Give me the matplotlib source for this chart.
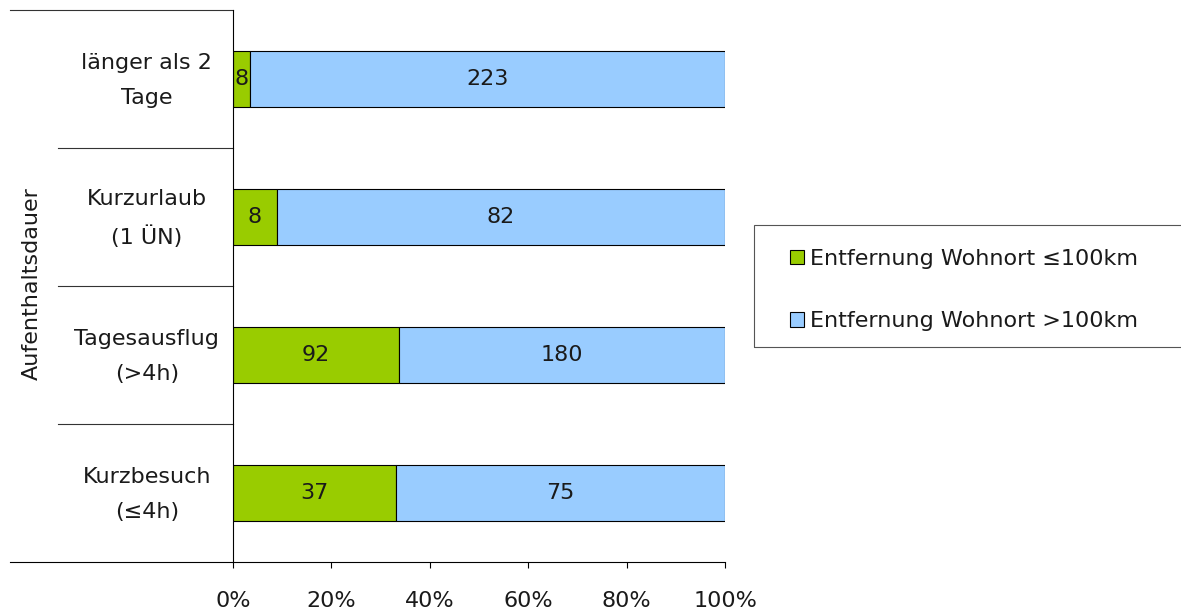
############################# Title #############################

''' Aufenthaltsdauer nach Entfernung Wohnort (100% gestapelt) '''

############################ Settings ###########################

import numpy as np
import matplotlib
matplotlib.use("Agg")
import matplotlib.pyplot as plt
from matplotlib.patches import Rectangle
from matplotlib.transforms import blended_transform_factory

plt.rcParams['font.family'] = ['DejaVu Sans']

########################## Data #########################

kategorien = ["Kurzbesuch\n(≤4h)", "Tagesausflug\n(>4h)",
              "Kurzurlaub\n(1 ÜN)", "länger als 2\nTage"]
nah = np.array([37, 92, 8, 8])          # Entfernung Wohnort <=100km
fern = np.array([75, 180, 82, 223])     # Entfernung Wohnort >100km
serien = ["Entfernung Wohnort ≤100km", "Entfernung Wohnort >100km"]
xticks = [0, 20, 40, 60, 80, 100]

########################## Plot #########################

fs = 16
txtcol = "#1a1a1a"
gruen = "#99CC00"
blau = "#99CCFF"

fig = plt.figure(figsize=(11.81, 6.10), dpi=100)
ax = fig.add_axes([233/1181, 1 - 562/610, 492/1181, 552/610])

summe = nah + fern
p_nah = nah / summe * 100
p_fern = fern / summe * 100
y = np.arange(len(kategorien))

b1 = ax.barh(y, p_nah, height=0.4, color=gruen, edgecolor="black",
             linewidth=0.8, label=serien[0])
b2 = ax.barh(y, p_fern, left=p_nah, height=0.4, color=blau,
             edgecolor="black", linewidth=0.8, label=serien[1])

#   Werte in den Balken
for i in range(len(y)):
    ax.text(p_nah[i] / 2, y[i], str(nah[i]), ha="center", va="center",
            fontsize=fs, color=txtcol)
    ax.text(p_nah[i] + p_fern[i] / 2, y[i], str(fern[i]), ha="center",
            va="center", fontsize=fs, color=txtcol)

ax.set_xlim(0, 100)
ax.set_ylim(-0.5, len(kategorien) - 0.5)
ax.set_xticks(xticks)
ax.set_xticklabels([f"{t}%" for t in xticks], fontsize=fs, color=txtcol)
ax.tick_params(axis="x", direction="out", length=4.5, width=0.8,
               pad=16.5, color="black")
ax.set_yticks([])

for s in ["top", "right"]:
    ax.spines[s].set_visible(False)
ax.spines["left"].set_linewidth(0.8)
ax.spines["bottom"].set_linewidth(0.8)

#   Kategorienbeschriftung und Trennlinien (Excel-Stil)
tr = blended_transform_factory(ax.transAxes, ax.transData)
for i, k in enumerate(kategorien):
    ax.text(-0.175, y[i] - 0.01, k, transform=tr, ha="center", va="center",
            multialignment="center", fontsize=fs, color=txtcol,
            linespacing=1.9)
x_inner = (58 - 233) / 492
x_outer = (10 - 233) / 492
for b in [0.5, 1.5, 2.5]:
    ax.plot([x_inner, 0], [b, b], transform=tr, color="#333333",
            linewidth=0.8, clip_on=False)
ax.plot([x_outer, 0], [3.5, 3.5], transform=tr, color="#333333",
        linewidth=0.8, clip_on=False)
ax.plot([x_outer, 0], [-0.5, -0.5], transform=tr, color="black",
        linewidth=0.8, clip_on=False)

fig.text(32/1181, 1 - 284/610, "Aufenthaltsdauer", rotation=90,
         ha="center", va="center", fontsize=fs, color=txtcol)

#   Legende (Rahmen rechts abgeschnitten wie im Original)
leg = fig.legend(handles=[b1, b2], labels=serien,
                 bbox_to_anchor=(790/1181, 1 - 249/610),
                 loc="upper left", borderaxespad=0, borderpad=0,
                 fontsize=fs, frameon=False,
                 handlelength=0.62, handleheight=0.62,
                 handletextpad=0.3, labelspacing=1.9)
for t in leg.get_texts():
    t.set_color(txtcol)
fig.patches.append(Rectangle((754/1181, 1 - 347/610), 0.5, 122/610,
                             transform=fig.transFigure, fill=False,
                             edgecolor="#555555", linewidth=0.8))

plt.savefig("out.png", dpi=100)
